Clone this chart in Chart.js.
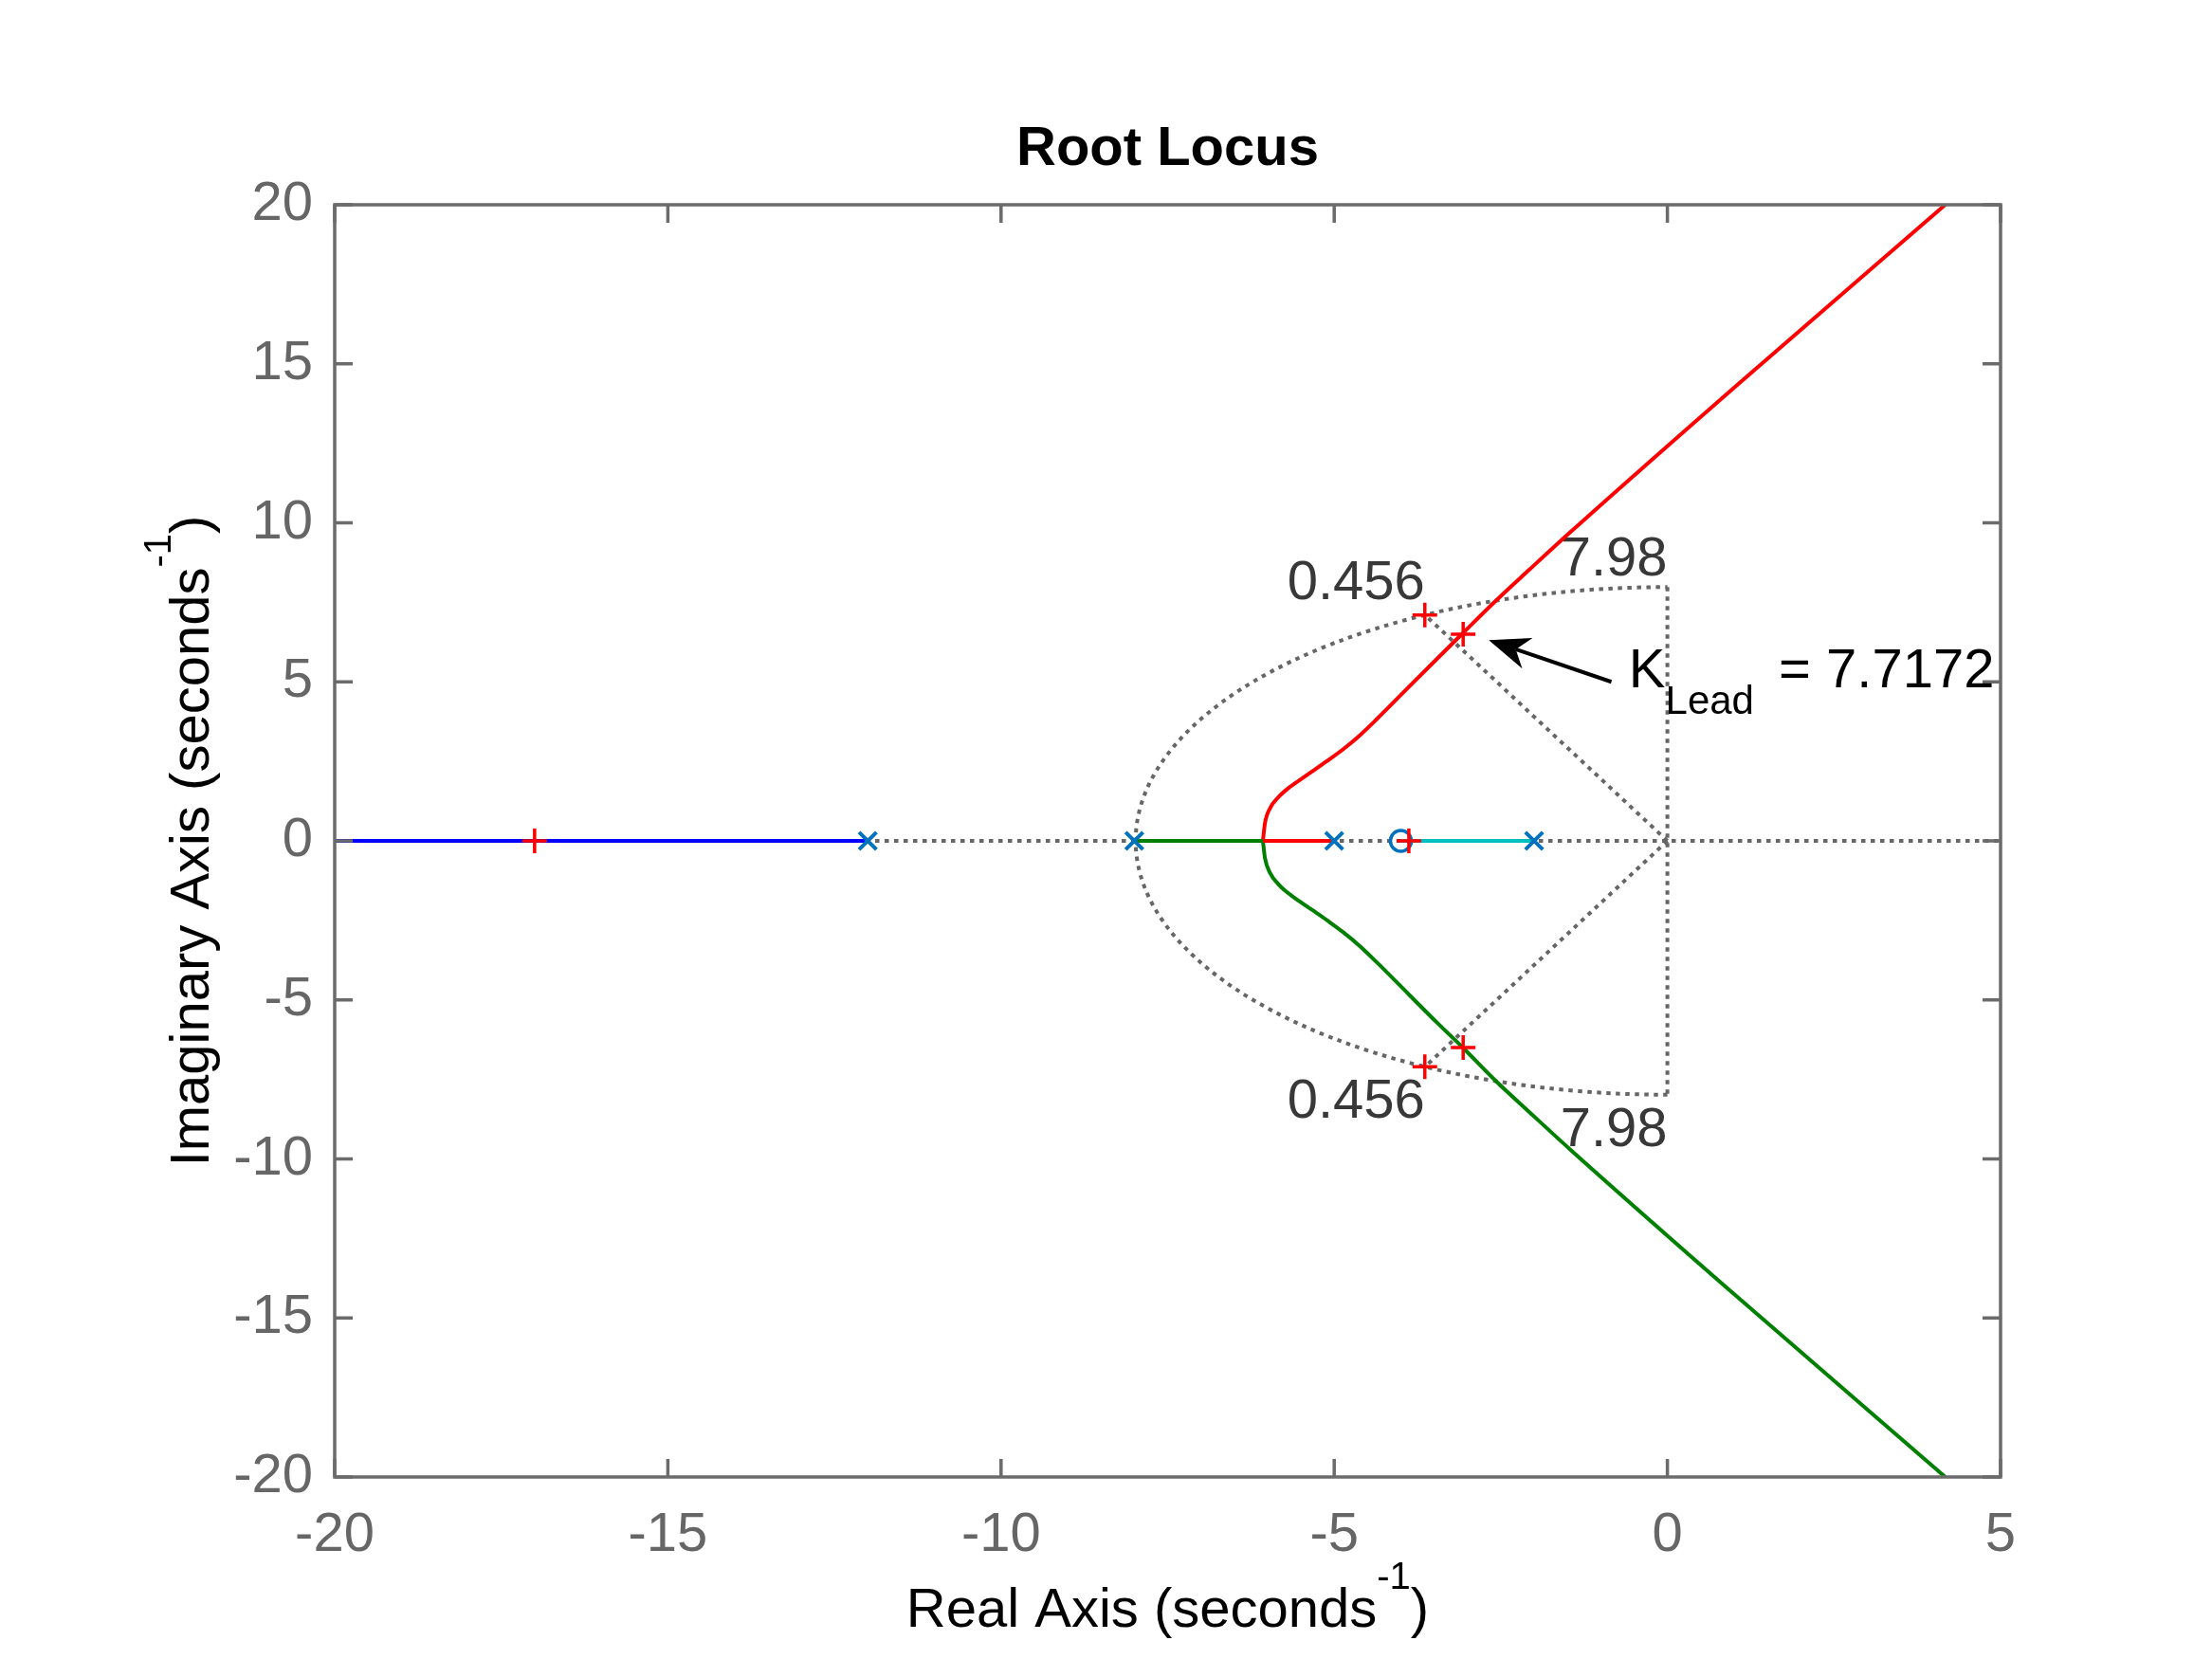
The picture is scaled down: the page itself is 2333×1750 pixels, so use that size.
<!DOCTYPE html>
<html>
<head>
<meta charset="utf-8">
<title>Root Locus</title>
<script src="https://cdn.jsdelivr.net/npm/chart.js@4.4.1/dist/chart.umd.min.js"></script>
<style>
  html, body { margin: 0; padding: 0; background: #fff; }
  #wrap { width: 2333px; height: 1750px; }
</style>
</head>
<body>
<div id="wrap"><canvas id="rlocus" width="2333" height="1750"></canvas></div>
<script>
// --- axis ticks ---
const xTickValues = [-20, -15, -10, -5, 0, 5];
const yTickValues = [-20, -15, -10, -5, 0, 5, 10, 15, 20];

// --- open-loop poles (x) and zero (o), all on the real axis ---
const polesRe = [-12, -8, -5, -2];
const zerosRe = [-4];

// --- closed-loop poles for K = 7.7172 (red +) ---
const gainPolesRe = [-17.0, -3.88, -3.065, -3.065];
const gainPolesIm = [0, 0, 6.5, -6.5];

// --- design point where zeta and wn lines meet (red +) ---
const designRe = [-3.64, -3.64];
const designIm = [7.1, -7.1];

// --- sgrid values ---
const dampingRatios = [0.456];
const naturalFreqs = [7.98];

// --- locus branches ---
const blueRe = [-20, -12];
const blueIm = [0, 0];
const cyanRe = [-4, -2];
const cyanIm = [0, 0];
const redRealRe = [-6.07, -5];
const redRealIm = [0, 0];
const greenRealRe = [-8, -6.07];
const greenRealIm = [0, 0];

const upperRe = [-6.07, -6.04, -5.96, -5.84, -5.71, -5.575, -5.34, -5.10, -4.86, -4.62, -4.36, -3.87, -3.44, -3.06, -2.59, -2.07, -1.46, 1.0, 4.17];
const upperIm = [0, 0.55, 1.04, 1.37, 1.62, 1.83, 2.17, 2.52, 2.89, 3.31, 3.83, 4.86, 5.76, 6.55, 7.52, 8.53, 9.70, 14.25, 20];

const lowerRe = [-6.07, -6.04, -5.96, -5.84, -5.71, -5.575, -5.34, -5.10, -4.86, -4.62, -4.36, -3.87, -3.44, -3.06, -2.59, -2.07, -1.46, 1.0, 4.17];
const lowerIm = [0, -0.53, -1.02, -1.36, -1.61, -1.82, -2.16, -2.51, -2.88, -3.30, -3.82, -4.85, -5.75, -6.52, -7.52, -8.53, -9.70, -14.25, -20];

const FONT = '"Liberation Sans", Arial, Helvetica, sans-serif';
const GRID_COLOR = '#666666';
const AXIS_COLOR = '#6b6b6b';

const pts = (xs, ys) => xs.map((x, i) => ({ x: x, y: ys[i] }));

function lineSet(xs, ys, color, smooth) {
    return {
        data: pts(xs, ys),
        showLine: true,
        borderColor: color,
        borderWidth: 4,
        pointRadius: 0,
        cubicInterpolationMode: smooth ? 'monotone' : 'default',
        tension: smooth ? 0.4 : 0,
        order: 2
    };
}

// draws a run of text pieces (for sub/superscripts), left to right
function drawParts(ctx, parts, x, y, align) {
    const widths = parts.map(p => {
        ctx.font = (p.bold ? 'bold ' : '') + p.size + 'px ' + FONT;
        return ctx.measureText(p.t).width + (p.gap || 0);
    });
    const total = widths.reduce((a, b) => a + b, 0);
    let cx = align === 'center' ? x - total / 2 : align === 'right' ? x - total : x;
    ctx.textAlign = 'left';
    ctx.textBaseline = 'alphabetic';
    parts.forEach((p, i) => {
        ctx.font = (p.bold ? 'bold ' : '') + p.size + 'px ' + FONT;
        ctx.fillText(p.t, cx, y + (p.dy || 0));
        cx += widths[i];
    });
}

// damping ratio / natural frequency grid, under the data
const sgridPlugin = {
    id: 'sgrid',
    beforeDatasetsDraw(chart) {
        const { ctx, chartArea: a, scales: { x, y } } = chart;
        const x0 = x.getPixelForValue(0), y0 = y.getPixelForValue(0);
        const seg = (x1, y1, x2, y2) => {
            ctx.beginPath(); ctx.moveTo(x1, y1); ctx.lineTo(x2, y2); ctx.stroke();
        };
        ctx.save();
        ctx.beginPath();
        ctx.rect(a.left, a.top, a.width, a.height);
        ctx.clip();
        ctx.strokeStyle = GRID_COLOR;
        ctx.lineWidth = 4;
        ctx.setLineDash([4.5, 5.5]);

        seg(a.left, y0, a.right, y0);

        naturalFreqs.forEach(wn => {
            const rx = x.getPixelForValue(wn) - x0;
            const ry = y0 - y.getPixelForValue(wn);
            ctx.beginPath();
            ctx.ellipse(x0, y0, rx, ry, 0, Math.PI / 2, 3 * Math.PI / 2);
            ctx.stroke();
            seg(x0, y.getPixelForValue(wn), x0, y.getPixelForValue(-wn));
        });

        dampingRatios.forEach(z => {
            const wn = naturalFreqs[0];
            const re = -z * wn, im = wn * Math.sqrt(1 - z * z);
            seg(x0, y0, x.getPixelForValue(re), y.getPixelForValue(im));
            seg(x0, y0, x.getPixelForValue(re), y.getPixelForValue(-im));
        });
        ctx.setLineDash([]);

        // grid labels
        ctx.fillStyle = '#383838';
        dampingRatios.forEach(z => {
            const wn = naturalFreqs[0];
            const re = -z * wn;
            drawParts(ctx, [{ t: String(z), size: 58 }], x.getPixelForValue(re), y.getPixelForValue(7.59), 'right');
            drawParts(ctx, [{ t: String(z), size: 58 }], x.getPixelForValue(re), y.getPixelForValue(-8.69), 'right');
        });
        naturalFreqs.forEach(wn => {
            drawParts(ctx, [{ t: String(wn), size: 58 }], x0, y.getPixelForValue(8.36), 'right');
            drawParts(ctx, [{ t: String(wn), size: 58 }], x0, y.getPixelForValue(-9.59), 'right');
        });
        ctx.restore();
    }
};

// MATLAB style box, inward ticks, titles and the gain annotation
const axesPlugin = {
    id: 'matlabAxes',
    afterDraw(chart) {
        const { ctx, chartArea: a, scales: { x, y } } = chart;
        const tickLen = 19;
        ctx.save();
        ctx.strokeStyle = AXIS_COLOR;
        ctx.lineWidth = 3.5;
        ctx.strokeRect(a.left, a.top, a.width, a.height);
        ctx.beginPath();
        xTickValues.forEach(v => {
            const px = x.getPixelForValue(v);
            ctx.moveTo(px, a.bottom); ctx.lineTo(px, a.bottom - tickLen);
            ctx.moveTo(px, a.top); ctx.lineTo(px, a.top + tickLen);
        });
        yTickValues.forEach(v => {
            const py = y.getPixelForValue(v);
            ctx.moveTo(a.left, py); ctx.lineTo(a.left + tickLen, py);
            ctx.moveTo(a.right, py); ctx.lineTo(a.right - tickLen, py);
        });
        ctx.stroke();

        const midX = (a.left + a.right) / 2;
        const midY = (a.top + a.bottom) / 2;

        ctx.fillStyle = '#000';
        drawParts(ctx, [{ t: 'Root Locus', size: 58, bold: true }], midX, a.top - 42, 'center');

        drawParts(ctx, [
            { t: 'Real Axis (seconds', size: 58 },
            { t: '-1', size: 40, dy: -40 },
            { t: ')', size: 58 }
        ], midX, a.bottom + 158, 'center');

        ctx.save();
        ctx.translate(a.left - 133, midY);
        ctx.rotate(-Math.PI / 2);
        drawParts(ctx, [
            { t: 'Imaginary Axis (seconds', size: 58 },
            { t: '-1', size: 40, dy: -40 },
            { t: ')', size: 58 }
        ], 0, 0, 'center');
        ctx.restore();

        // annotation: arrow to the chosen closed-loop pole
        const tipX = x.getPixelForValue(-2.68), tipY = y.getPixelForValue(6.31);
        const tailX = x.getPixelForValue(-0.84), tailY = y.getPixelForValue(5.0);
        const len = Math.hypot(tailX - tipX, tailY - tipY);
        const ux = (tailX - tipX) / len, uy = (tailY - tipY) / len;
        const nx = -uy, ny = ux;
        ctx.strokeStyle = '#000';
        ctx.lineWidth = 4;
        ctx.beginPath();
        ctx.moveTo(tailX, tailY);
        ctx.lineTo(tipX + ux * 30, tipY + uy * 30);
        ctx.stroke();
        ctx.beginPath();
        ctx.moveTo(tipX, tipY);
        ctx.lineTo(tipX + ux * 43 + nx * 17, tipY + uy * 43 + ny * 17);
        ctx.lineTo(tipX + ux * 30, tipY + uy * 30);
        ctx.lineTo(tipX + ux * 43 - nx * 17, tipY + uy * 43 - ny * 17);
        ctx.closePath();
        ctx.fill();

        drawParts(ctx, [
            { t: 'K', size: 58 },
            { t: 'Lead', size: 42, dy: 28, gap: 10 },
            { t: ' = 7.7172', size: 58 }
        ], x.getPixelForValue(-0.58), y.getPixelForValue(4.82), 'left');

        ctx.restore();
    }
};

Chart.defaults.font.family = FONT;

new Chart(document.getElementById('rlocus'), {
    type: 'scatter',
    data: {
        datasets: [
            {
                data: pts(gainPolesRe, gainPolesIm),
                pointStyle: 'cross', pointRadius: 13,
                borderColor: '#ff0000', pointBorderColor: '#ff0000',
                borderWidth: 3.5, pointBorderWidth: 3.5, order: 0
            },
            {
                data: pts(designRe, designIm),
                pointStyle: 'cross', pointRadius: 13,
                borderColor: '#ff0000', pointBorderColor: '#ff0000',
                borderWidth: 3.5, pointBorderWidth: 3.5, order: 0
            },
            {
                data: polesRe.map(v => ({ x: v, y: 0 })),
                pointStyle: 'crossRot', pointRadius: 13,
                borderColor: '#0072BD', pointBorderColor: '#0072BD',
                borderWidth: 4, pointBorderWidth: 4, order: 1
            },
            {
                data: zerosRe.map(v => ({ x: v, y: 0 })),
                pointStyle: 'circle', pointRadius: 11,
                backgroundColor: 'rgba(0,0,0,0)', pointBackgroundColor: 'rgba(0,0,0,0)',
                borderColor: '#0072BD', pointBorderColor: '#0072BD',
                borderWidth: 3.5, pointBorderWidth: 3.5, order: 1
            },
            lineSet(blueRe, blueIm, '#0000ff', false),
            lineSet(cyanRe, cyanIm, '#00bfbf', false),
            lineSet(redRealRe, redRealIm, '#ff0000', false),
            lineSet(greenRealRe, greenRealIm, '#008000', false),
            lineSet(upperRe, upperIm, '#ff0000', true),
            lineSet(lowerRe, lowerIm, '#008000', true)
        ]
    },
    options: {
        responsive: false,
        animation: false,
        devicePixelRatio: 1,
        layout: { padding: { top: 216, right: 223, bottom: 0, left: 0 } },
        plugins: {
            legend: { display: false },
            tooltip: { enabled: false },
            title: { display: false }
        },
        scales: {
            x: {
                type: 'linear', min: -20, max: 5,
                grid: { display: false },
                border: { display: false },
                afterBuildTicks: s => { s.ticks = xTickValues.map(v => ({ value: v })); },
                afterFit: s => { s.height = 192; },
                ticks: {
                    autoSkip: false, maxRotation: 0, minRotation: 0,
                    padding: 19, color: '#666666',
                    font: { size: 58 }
                }
            },
            y: {
                type: 'linear', min: -20, max: 20,
                grid: { display: false },
                border: { display: false },
                afterBuildTicks: s => { s.ticks = yTickValues.map(v => ({ value: v })); },
                afterFit: s => { s.width = 353; },
                ticks: {
                    autoSkip: false, padding: 15, color: '#666666',
                    font: { size: 58 }
                }
            }
        }
    },
    plugins: [sgridPlugin, axesPlugin]
});
</script>
</body>
</html>
